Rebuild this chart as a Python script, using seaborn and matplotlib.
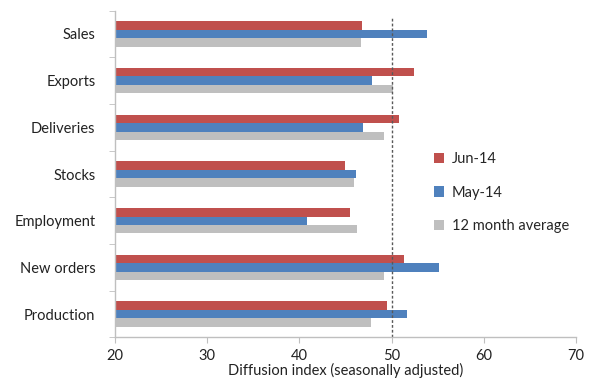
import pandas as pd
import matplotlib.pyplot as plt
import seaborn as sns
from matplotlib.patches import Patch

# Data
categories = ["Sales", "Exports", "Deliveries", "Stocks", "Employment", "New orders", "Production"]
jun_14 = [46.8, 52.4, 50.8, 44.9, 45.5, 51.3, 49.5]
may_14 = [53.8, 47.9, 46.9, 46.1, 40.8, 55.1, 51.7]
avg_12m = [46.7, 50.2, 49.2, 45.9, 46.2, 49.2, 47.8]
series = ["Jun-14", "May-14", "12 month average"]
colors = ["#C0504D", "#4F81BD", "#BFBFBF"]
x_ticks = [20, 30, 40, 50, 60, 70]


def main():
    sns.set_style("white")
    plt.rcParams["font.family"] = ["Lato", "DejaVu Sans"]

    df = pd.DataFrame({
        "category": categories * 3,
        "series": [series[0]] * 7 + [series[1]] * 7 + [series[2]] * 7,
        "value": jun_14 + may_14 + avg_12m,
    })

    fig = plt.figure(figsize=(5.89, 3.8), dpi=100)
    ax = fig.add_axes([0.195, 0.112, 0.783, 0.86])

    sns.barplot(data=df, y="category", x="value", hue="series", order=categories,
                hue_order=series, palette=colors, orient="h", width=0.54, gap=0,
                saturation=1, legend=False, ax=ax, linewidth=0)

    ax.set_xlim(20, 70)
    ax.set_ylim(6.5, -0.5)
    ax.set_xticks(x_ticks)
    ax.axvline(50, ymin=0, ymax=0.978, color="#595959", lw=1, ls=(0, (2, 1.5)))

    # spines
    for s in ["top", "right"]:
        ax.spines[s].set_visible(False)
    for s in ["left", "bottom"]:
        ax.spines[s].set_color("#BFBFBF")
        ax.spines[s].set_linewidth(1)

    # category boundary ticks like Excel
    ax.set_yticks([i - 0.5 for i in range(8)], minor=True)
    ax.tick_params(axis="y", which="major", length=0, pad=14, labelsize=10.5, labelcolor="#222222")
    ax.tick_params(axis="y", which="minor", length=4, color="#BFBFBF", direction="out", left=True)
    ax.tick_params(axis="x", length=4, color="#BFBFBF", direction="out", bottom=True,
                   labelsize=10.5, labelcolor="#222222", pad=4)

    ax.set_ylabel("")
    ax.set_xlabel("Diffusion index (seasonally adjusted)", fontsize=10.5, color="#222222", labelpad=0.5)

    handles = [Patch(facecolor=c, edgecolor="none") for c in colors]
    fig.legend(handles, series, loc="upper left", bbox_to_anchor=(0.715, 0.635),
               frameon=False, fontsize=10.5, handlelength=0.7, handleheight=0.7,
               handletextpad=0.5, labelspacing=1.35)

    fig.savefig("out.png", dpi=100)
    plt.close(fig)


if __name__ == "__main__":
    main()
